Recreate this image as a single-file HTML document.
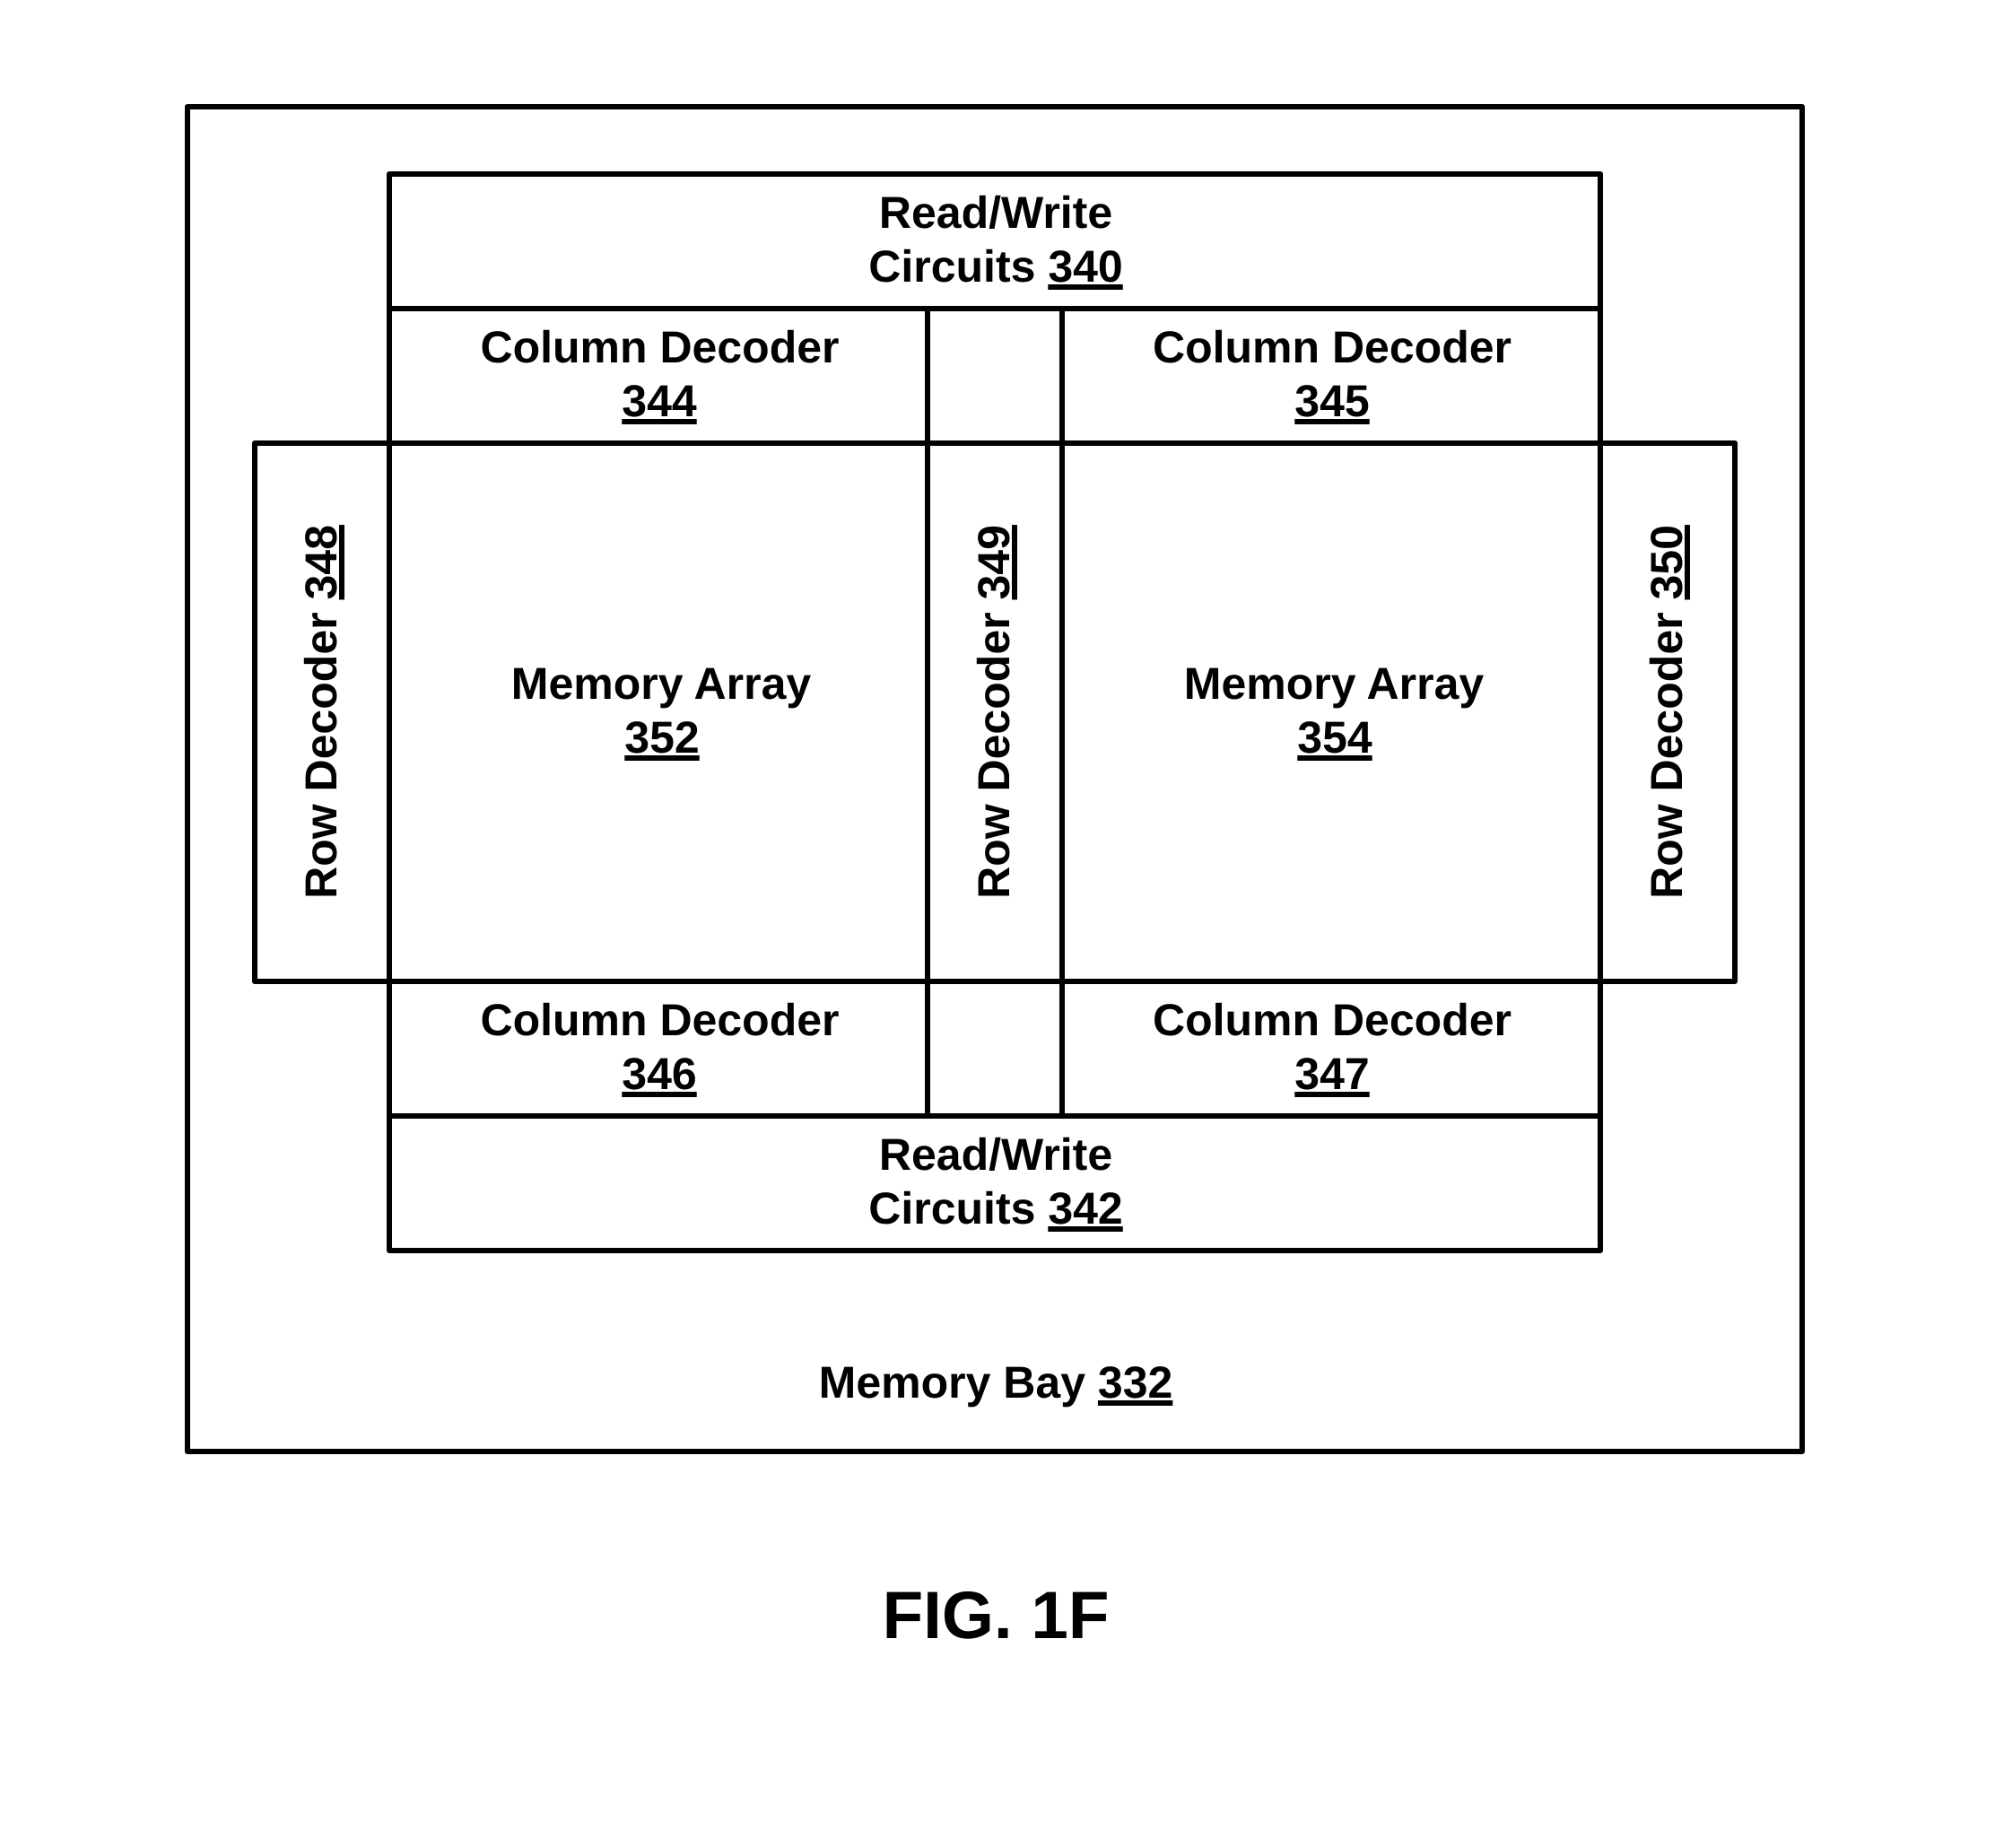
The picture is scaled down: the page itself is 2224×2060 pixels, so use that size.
<!DOCTYPE html>
<html>
<head>
<meta charset="utf-8">
<style>
html,body{margin:0;padding:0;background:#fff;width:2224px;height:2060px;overflow:hidden}
svg{position:absolute;left:0;top:0}
.t{position:absolute;left:0;top:0;transform-origin:0 0;font:bold 50px/60px "Liberation Sans",sans-serif;color:#000;white-space:pre;text-rendering:geometricPrecision}
.t u{text-decoration:underline;text-decoration-thickness:6px;text-underline-offset:3px;text-decoration-skip-ink:none}
.f{font-size:74.6px;line-height:90px}
</style>
</head>
<body>
<svg width="2224" height="2060" viewBox="0 0 2224 2060">
<rect width="2224" height="2060" fill="#fff"/>
<g fill="none" stroke="#000" stroke-width="6" stroke-linejoin="round">
<rect x="209" y="119" width="1800" height="1499"/>
<rect x="434" y="194" width="1350" height="150"/>
<rect x="434" y="344" width="600" height="150"/>
<rect x="1034" y="344" width="150" height="150"/>
<rect x="1184" y="344" width="600" height="150"/>
<rect x="284" y="494" width="150" height="600"/>
<rect x="434" y="494" width="600" height="600"/>
<rect x="1034" y="494" width="150" height="600"/>
<rect x="1184" y="494" width="600" height="600"/>
<rect x="1784" y="494" width="150" height="600"/>
<rect x="434" y="1094" width="600" height="150"/>
<rect x="1034" y="1094" width="150" height="150"/>
<rect x="1184" y="1094" width="600" height="150"/>
<rect x="434" y="1244" width="1350" height="150"/>
</g>
</svg>

<div class="t" style="transform:translate(1110px,254px) translate(-50%,-47px)">Read/Write</div>
<div class="t" style="transform:translate(1110px,314px) translate(-50%,-47px)">Circuits <u>340</u></div>

<div class="t" style="transform:translate(735.5px,404px) translate(-50%,-47px)">Column Decoder</div>
<div class="t" style="transform:translate(735px,464px) translate(-50%,-47px)"><u>344</u></div>
<div class="t" style="transform:translate(1485px,404px) translate(-50%,-47px)">Column Decoder</div>
<div class="t" style="transform:translate(1485px,464px) translate(-50%,-47px)"><u>345</u></div>

<div class="t" style="transform:translate(737px,779px) translate(-50%,-47px)">Memory Array</div>
<div class="t" style="transform:translate(738px,839px) translate(-50%,-47px)"><u>352</u></div>
<div class="t" style="transform:translate(1487px,779px) translate(-50%,-47px)">Memory Array</div>
<div class="t" style="transform:translate(1488px,839px) translate(-50%,-47px)"><u>354</u></div>

<div class="t" style="transform:translate(375px,793.5px) rotate(-90deg) translate(-50%,-47px)">Row Decoder <u>348</u></div>
<div class="t" style="transform:translate(1125px,793.5px) rotate(-90deg) translate(-50%,-47px)">Row Decoder <u>349</u></div>
<div class="t" style="transform:translate(1875px,793.5px) rotate(-90deg) translate(-50%,-47px)">Row Decoder <u>350</u></div>

<div class="t" style="transform:translate(735.5px,1154px) translate(-50%,-47px)">Column Decoder</div>
<div class="t" style="transform:translate(735px,1214px) translate(-50%,-47px)"><u>346</u></div>
<div class="t" style="transform:translate(1485px,1154px) translate(-50%,-47px)">Column Decoder</div>
<div class="t" style="transform:translate(1485px,1214px) translate(-50%,-47px)"><u>347</u></div>

<div class="t" style="transform:translate(1110px,1304px) translate(-50%,-47px)">Read/Write</div>
<div class="t" style="transform:translate(1110px,1364px) translate(-50%,-47px)">Circuits <u>342</u></div>

<div class="t" style="transform:translate(1110px,1558px) translate(-50%,-47px)">Memory Bay <u>332</u></div>

<div class="t f" style="transform:translate(1110px,1826px) translate(-50%,-71px)">FIG. 1F</div>
</body>
</html>
